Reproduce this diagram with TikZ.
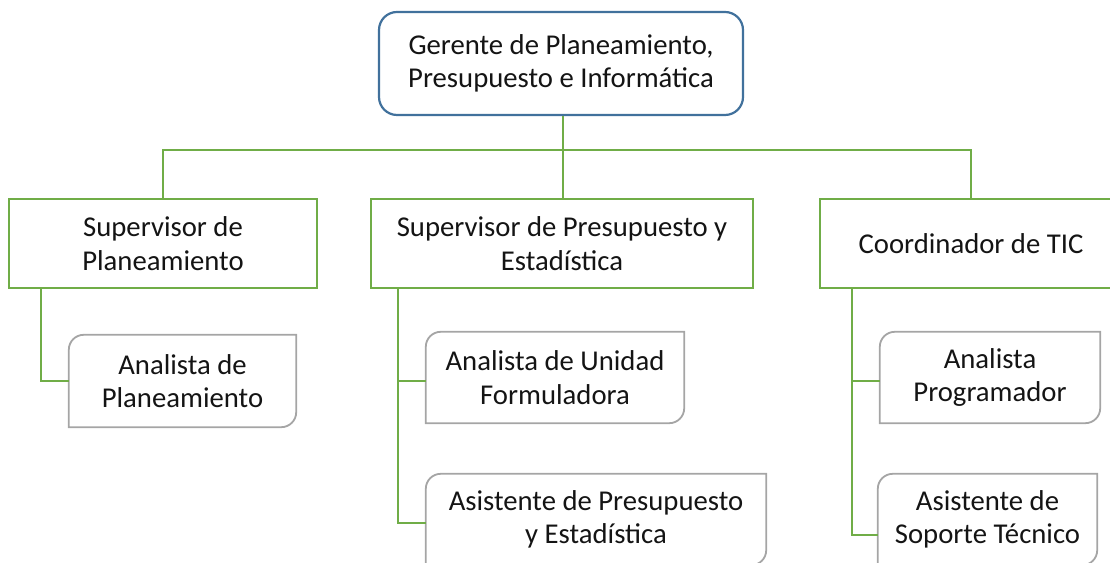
\documentclass[tikz,border=0pt]{standalone}
\usepackage{fontspec}
\setmainfont{Carlito}
\definecolor{orgblue}{HTML}{41719C}
\definecolor{orggreen}{HTML}{70AD47}
\definecolor{orggray}{HTML}{A5A5A5}
\definecolor{orgtext}{HTML}{141414}
\tikzset{
  orgtxt/.style={inner sep=0pt, align=center, text=orgtext, font=\fontsize{28.7}{33.5}\selectfont},
  gerbox/.style={orgtxt, draw=orgblue, line width=2.2pt, rounded corners=18pt, fill=white},
  supbox/.style={orgtxt, draw=orggreen, line width=2.2pt, fill=white, minimum height=89pt},
  subbox/.style={orgtxt, minimum height=91pt},
  conn/.style={draw=orggreen, line width=2.2pt},
  subline/.style={draw=orggray, line width=1.8pt}
}
\begin{document}
\begin{tikzpicture}[x=1pt,y=1pt]
            \useasboundingbox (0,0) rectangle (1110,562);

            \node[gerbox, minimum width=364pt, minimum height=103pt] (ger) at (561,498.5) {Gerente de Planeamiento,\\Presupuesto e Informática};

            \node[supbox, minimum width=308pt] (sp) at (163,318.5) {Supervisor de\\Planeamiento};
            \node[supbox, minimum width=382pt] (spe) at (562,318.5) {Supervisor de Presupuesto y\\Estadística};
            \node[supbox, minimum width=302pt] (ctic) at (971,318.5) {Coordinador de TIC};

            \node[subbox, minimum width=227pt, minimum height=92pt] (ap) at (182.5,181) {Analista de\\Planeamiento};
            \node[subbox, minimum width=258pt] (auf) at (555,184.5) {Analista de Unidad\\Formuladora};
            \node[subbox, minimum width=340pt] (ape) at (596,42.5) {Asistente de Presupuesto\\y Estadística};
            \node[subbox, minimum width=220pt] (apr) at (990,184.5) {Analista\\Programador};
            \node[subbox, minimum width=219pt] (ast) at (987.5,42.5) {Asistente de\\Soporte Técnico};

            \foreach \n in {ap,auf,ape,apr,ast}
              \draw[subline] (\n.south west) -- ([yshift=-15pt]\n.north west) arc[start angle=180, end angle=90, radius=15pt]
                -- (\n.north east) -- ([yshift=15pt]\n.south east) arc[start angle=0, end angle=-90, radius=15pt] -- cycle;

            \coordinate (bus) at (563,412);
            \draw[conn] (ger.south -| bus) -- (bus);
            \draw[conn] (sp.north) -- (sp.north |- bus) -- (ctic.north |- bus) -- (ctic.north);
            \draw[conn] (bus) -- (bus |- spe.north);

            \coordinate (tsp) at (41,274);
            \coordinate (tspe) at (398,274);
            \coordinate (tctic) at (852,274);
            \draw[conn] (tsp) |- (ap.west);
            \draw[conn] (tspe) |- ([yshift=-3.5pt]auf.west);
            \draw[conn] (tspe) |- ([yshift=-3.5pt]ape.west);
            \draw[conn] (tctic) |- ([yshift=-3.5pt]apr.west);
            \draw[conn] (tctic) |- ([yshift=-15.5pt]ast.west);
        \end{tikzpicture}
\end{document}
